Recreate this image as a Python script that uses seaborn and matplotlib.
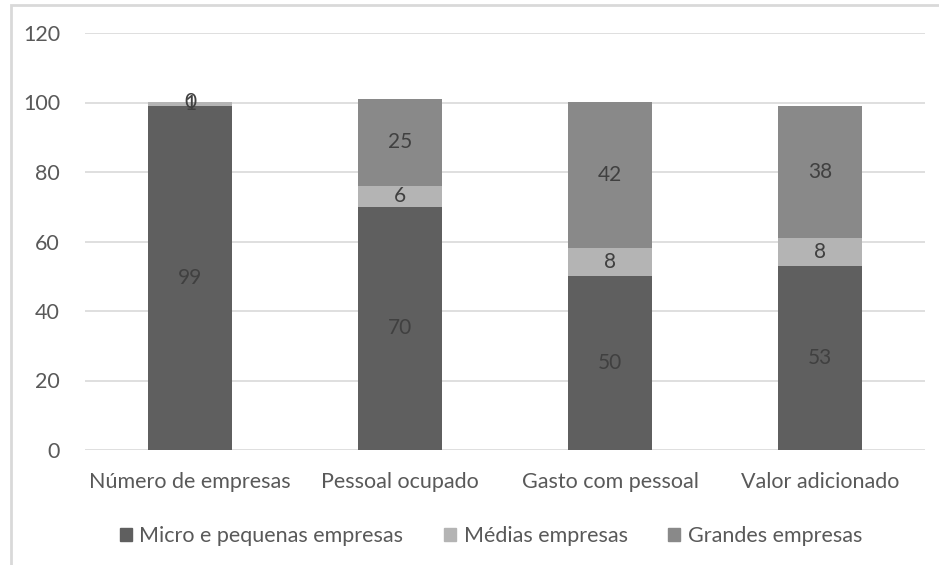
import matplotlib
matplotlib.use("Agg")
import matplotlib.pyplot as plt
from matplotlib.patches import Rectangle
import seaborn as sns
import numpy as np

categories = ["Número de empresas", "Pessoal ocupado", "Gasto com pessoal", "Valor adicionado"]
series_names = ["Micro e pequenas empresas", "Médias empresas", "Grandes empresas"]
micro = [99, 70, 50, 53]
medias = [1, 6, 8, 8]
grandes = [0, 25, 42, 38]
y_ticks = [0, 20, 40, 60, 80, 100, 120]

colors = ["#5f5f5f", "#b4b4b4", "#898989"]
text_color = "#595959"
label_color = "#404040"

sns.set_theme(style="white")
plt.rcParams["font.family"] = ["Lato", "DejaVu Sans"]

W, H = 939, 565
fig = plt.figure(figsize=(W / 100, H / 100), dpi=100)
ax = fig.add_axes([85 / W, 115 / H, (925 - 85) / W, (450 - 33) / H])

series = [micro, medias, grandes]
bottom = np.zeros(len(categories))
for name, vals, col in zip(series_names, series, colors):
    sns.barplot(x=categories, y=vals, bottom=bottom, color=col, width=0.4,
                label=name, ax=ax, saturation=1, linewidth=0)
    bottom = bottom + np.array(vals)

for cont, vals in zip(ax.containers, series):
    ax.bar_label(cont, labels=[str(v) for v in vals], label_type="center",
                 color=label_color, fontsize=15)

ax.set_ylim(0, 120)
ax.set_xlim(-0.5, 3.5)
ax.set_yticks(y_ticks)
ax.yaxis.grid(True, color="#d9d9d9", linewidth=1.2)
ax.set_axisbelow(True)
for s in ax.spines.values():
    s.set_visible(False)
ax.tick_params(axis="y", length=0, pad=18, labelsize=15.5, labelcolor=text_color)
ax.tick_params(axis="x", length=0, pad=16, labelsize=15.5, labelcolor=text_color)
ax.set_xlabel("")
ax.set_ylabel("")
if ax.get_legend() is not None:
    ax.get_legend().remove()

handles = [Rectangle((0, 0), 1, 1, color=c) for c in colors]
fig.legend(handles, series_names, loc="center", bbox_to_anchor=(0.523, 1 - 536 / H),
           ncol=3, frameon=False, fontsize=15.5, labelcolor=text_color,
           handlelength=0.55, handleheight=0.55, handletextpad=0.35, columnspacing=1.9)

# light frame around the chart area
frame = Rectangle((11 / W, -0.2), 1.2, 1.2 - 5 / H, transform=fig.transFigure,
                  fill=False, edgecolor="#d9d9d9", linewidth=2, clip_on=False)
fig.patches.append(frame)

fig.savefig("out.png", dpi=100)
